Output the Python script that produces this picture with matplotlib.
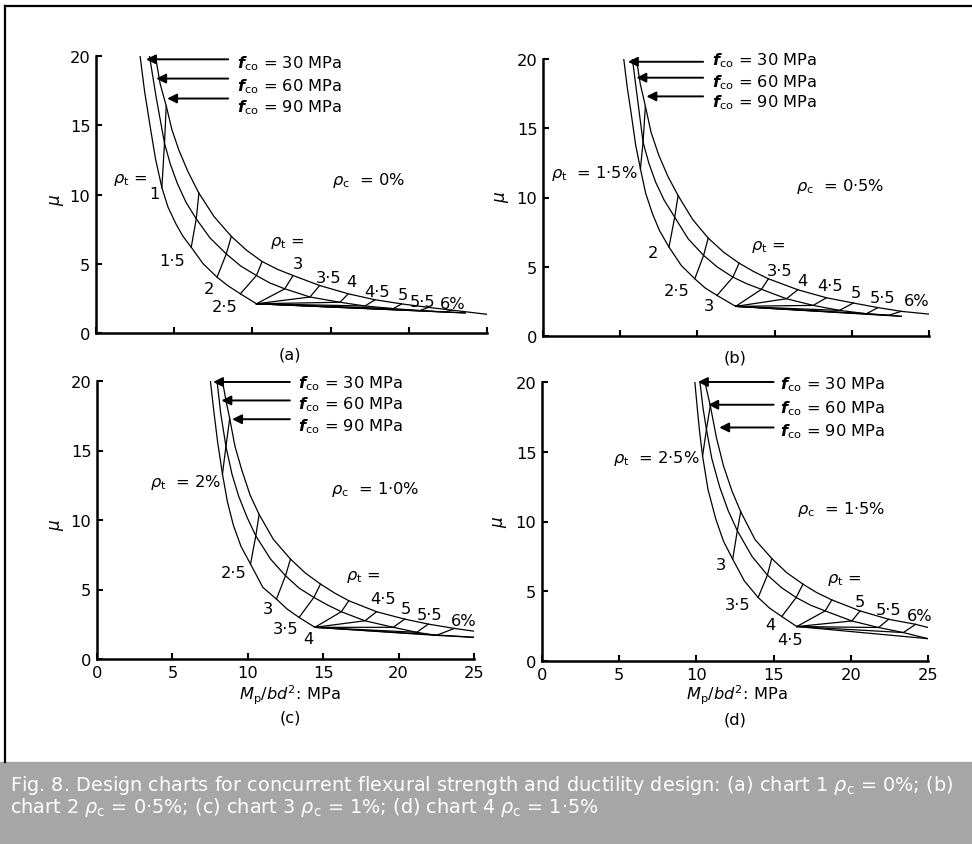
import matplotlib
matplotlib.use('Agg')
import matplotlib.pyplot as plt
from matplotlib.patches import Rectangle
from matplotlib.lines import Line2D

plt.rcParams['font.family'] = ['DejaVu Sans']
plt.rcParams['mathtext.fontset'] = 'custom'
plt.rcParams['mathtext.rm'] = 'DejaVu Sans'
plt.rcParams['mathtext.it'] = 'DejaVu Sans:italic'
plt.rcParams['mathtext.bf'] = 'DejaVu Sans:bold'
plt.rcParams['mathtext.bfit'] = 'DejaVu Sans:bold:italic'

FS = 11.7

# ---- values: M_p/bd^2 (MPa) and mu along each f_co curve ----
# (a) rho_c = 0%
a_rho = [1, 1.5, 2, 2.5, 3, 3.5, 4, 4.5, 5, 5.5, 6]
a_m30 = [2.82, 3.1, 3.45, 3.8, 4.21, 4.6, 5.1, 5.55, 6.09, 6.85, 7.74, 8.45, 9.23, 10.26]
a_mu30 = [20, 17.5, 15, 12.6, 10.5, 9.1, 7.9, 7.0, 6.19, 5.0, 4.03, 3.4, 2.83, 2.11]
a_m60 = [3.42, 3.85, 4.38, 4.75, 5.2, 5.75, 6.41, 7.3, 8.33, 9.25, 10.26, 11.1, 12.07, 13.68,
         15.6, 17.2, 19.0, 20.7, 22.3, 23.6]
a_mu60 = [20, 17, 13.7, 12.2, 10.8, 9.45, 8.24, 6.85, 5.71, 4.84, 4.15, 3.62, 3.19, 2.6,
          2.22, 1.95, 1.76, 1.62, 1.52, 1.45]
a_m90 = [3.8, 4.1, 4.49, 4.85, 5.3, 5.9, 6.58, 7.55, 8.65, 9.6, 10.62, 11.6, 12.6, 14.3,
         16.13, 17.84, 19.55, 21.26, 22.76, 25]
a_mu90 = [20, 18.0, 16.4, 14.7, 13.2, 11.6, 10.1, 8.4, 6.98, 6.0, 5.16, 4.6, 4.15, 3.43,
          2.83, 2.4, 2.1, 1.85, 1.65, 1.35]
a_i30 = [4, 8, 10, 12, 13, 13, 13, 13, 13, 13, 13]
a_i60 = [2, 6, 8, 10, 12, 13, 14, 15, 16, 17, 18]
a_i90 = [2, 6, 8, 10, 12, 13, 14, 15, 16, 17, 18]

# (b) rho_c = 0.5%
b_rho = [1.5, 2, 2.5, 3, 3.5, 4, 4.5, 5, 5.5, 6]
b_m30 = [5.23, 5.45, 5.72, 6.0, 6.31, 6.65, 7.1, 7.55, 8.16, 8.95, 9.83, 10.5, 11.27, 12.48]
b_mu30 = [20, 18, 16, 13.8, 12.07, 10.3, 8.8, 7.6, 6.42, 5.1, 4.13, 3.47, 2.93, 2.14]
b_m60 = [5.79, 6.1, 6.48, 6.85, 7.3, 7.85, 8.53, 9.4, 10.4, 11.3, 12.3, 13.2, 14.15, 15.77,
         17.5, 19.2, 20.95, 22.4, 23.2]
b_mu60 = [20, 17.3, 14.0, 12.5, 11.1, 9.8, 8.58, 7.02, 5.82, 4.97, 4.25, 3.77, 3.37, 2.69,
          2.21, 1.85, 1.61, 1.5, 1.42]
b_m90 = [6.05, 6.3, 6.63, 7.0, 7.5, 8.1, 8.75, 9.7, 10.7, 11.7, 12.7, 13.65, 14.6, 16.5,
         18.36, 20.1, 21.7, 23.2, 25]
b_mu90 = [20, 18.2, 16.6, 14.7, 13.05, 11.5, 10.14, 8.4, 7.07, 6.05, 5.26, 4.65, 4.13, 3.34,
          2.76, 2.38, 2.05, 1.78, 1.58]
b_i30 = [4, 8, 10, 12, 13, 13, 13, 13, 13, 13]
b_i60 = [2, 6, 8, 10, 12, 13, 14, 15, 16, 17]
b_i90 = [2, 6, 8, 10, 12, 13, 14, 15, 16, 17]

# (c) rho_c = 1.0%
c_rho = [2, 2.5, 3, 3.5, 4, 4.5, 5, 5.5, 6]
c_m30 = [7.52, 7.75, 8.0, 8.32, 8.65, 9.05, 9.55, 10.18, 11.0, 11.9, 12.6, 13.4, 14.45]
c_mu30 = [20, 17.8, 15.6, 13.3, 11.3, 9.6, 8.1, 6.83, 5.15, 4.31, 3.6, 2.99, 2.28]
c_m60 = [7.96, 8.2, 8.55, 8.95, 9.4, 9.95, 10.53, 11.5, 12.5, 13.4, 14.38, 15.3, 16.2, 17.77,
         19.65, 21.2, 22.5, 25]
c_mu60 = [20, 17.7, 15.3, 13.3, 11.7, 10.2, 8.86, 7.2, 5.99, 5.1, 4.43, 3.88, 3.4, 2.75,
          2.28, 1.92, 1.7, 1.56]
c_m90 = [8.32, 8.55, 8.8, 9.15, 9.6, 10.15, 10.75, 11.7, 12.83, 13.8, 14.82, 15.75, 16.7,
         18.54, 20.4, 21.97, 23.7, 25]
c_mu90 = [20, 18.6, 17.3, 15.3, 13.6, 11.8, 10.4, 8.6, 7.19, 6.2, 5.39, 4.75, 4.19,
          3.4, 2.87, 2.51, 2.2, 2.0]
c_i30 = [3, 7, 9, 11, 12, 12, 12, 12, 12]
c_i60 = [2, 6, 8, 10, 12, 13, 14, 15, 16]
c_i90 = [2, 6, 8, 10, 12, 13, 14, 15, 16]

# (d) rho_c = 1.5%
d_rho = [2.5, 3, 3.5, 4, 4.5, 5, 5.5, 6]
d_m30 = [9.9, 10.05, 10.2, 10.4, 10.75, 11.25, 11.75, 12.35, 13.1, 14.0, 14.75, 15.53, 16.5]
d_mu30 = [20, 18.2, 16.5, 14.7, 12.3, 10.2, 8.6, 7.3, 5.75, 4.55, 3.78, 3.19, 2.47]
d_m60 = [10.23, 10.42, 10.65, 11.0, 11.5, 12.05, 12.65, 13.6, 14.6, 15.5, 16.46, 17.4, 18.34,
         20.07, 21.8, 23.4, 25]
d_mu60 = [20, 18.2, 16.6, 14.5, 12.5, 10.8, 9.34, 7.5, 6.16, 5.27, 4.55, 4.0, 3.59,
          2.87, 2.4, 2.04, 1.6]
d_m90 = [10.55, 10.9, 11.3, 11.75, 12.3, 12.87, 13.8, 14.88, 15.85, 16.9, 17.8, 18.77, 20.6,
         22.45, 24.2, 25]
d_mu90 = [20, 18.3, 16.0, 14.0, 12.2, 10.7, 8.7, 7.35, 6.33, 5.51, 4.9, 4.38, 3.59,
          2.99, 2.63, 2.4]
d_i30 = [3, 7, 9, 11, 12, 12, 12, 12]
d_i60 = [2, 6, 8, 10, 12, 13, 14, 15]
d_i90 = [1, 5, 7, 9, 11, 12, 13, 14]

fco_labels = ['30', '60', '90']
yticks = [0, 5, 10, 15, 20]
xticks = [0, 5, 10, 15, 20, 25]

W, H = 972, 845
fig = plt.figure(figsize=(W / 100, H / 100), dpi=100)


def box(l, t, r, b):
    return [l / W, 1 - b / H, (r - l) / W, (b - t) / H]


def draw(ax, m30, mu30, m60, mu60, m90, mu90, rho, i30, i60, i90, show_x):
    for m, mu in ((m30, mu30), (m60, mu60), (m90, mu90)):
        ax.plot(m, mu, color='k', lw=0.9)
    for k in range(len(rho)):
        ax.plot([m30[i30[k]], m60[i60[k]], m90[i90[k]]],
                [mu30[i30[k]], mu60[i60[k]], mu90[i90[k]]], color='k', lw=0.9)
    ax.plot([m30[-1], m60[-1]], [mu30[-1], mu60[-1]], color='k', lw=0.9)
    ax.set_xlim(0, 25)
    ax.set_ylim(0, 20)
    for s in ['top', 'right']:
        ax.spines[s].set_visible(False)
    for s in ['left', 'bottom']:
        ax.spines[s].set_linewidth(1.8)
    ax.set_xticks(xticks)
    ax.set_yticks(yticks)
    ax.tick_params(direction='in', length=4, width=1.5, labelsize=FS, pad=4)
    if not show_x:
        ax.set_xticklabels([])
    ax.patch.set_alpha(0)


def arrows(ax, tips, tail_x, text_x, text_y):
    for (tx, ty), lab, yy in zip(tips, fco_labels, text_y):
        ax.annotate('', xy=(tx, ty), xytext=(tail_x, ty),
                    arrowprops=dict(arrowstyle='-|>', color='k', lw=1.4,
                                    mutation_scale=14, shrinkA=0, shrinkB=0))
        ax.text(text_x, yy - 0.43, r'$\mathbfit{f}_{\rm co}$ = ' + lab + ' MPa',
                fontsize=FS, va='baseline', ha='left')


def labels(ax, items):
    for x, y, s, ha in items:
        ax.text(x, y, s, fontsize=FS, ha=ha, va='center')


ax_a = fig.add_axes(box(96, 57, 487, 334))
draw(ax_a, a_m30, a_mu30, a_m60, a_mu60, a_m90, a_mu90, a_rho, a_i30, a_i60, a_i90, False)
arrows(ax_a, [(3.2, 19.76), (3.85, 18.37), (4.55, 16.93)], 8.45, 9.0, [19.6, 17.95, 16.45])
labels(ax_a, [(1.1, 11.1, r'$\rho_{\rm t}$ =', 'left'), (3.75, 10.1, '1', 'center'),
              (4.86, 5.2, '1·5', 'center'), (7.2, 3.2, '2', 'center'), (8.25, 1.9, '2·5', 'center'),
              (12.2, 6.6, r'$\rho_{\rm t}$ =', 'center'), (12.9, 5.0, '3', 'center'),
              (14.85, 4.0, '3·5', 'center'), (16.35, 3.7, '4', 'center'), (17.95, 3.0, '4·5', 'center'),
              (19.6, 2.8, '5', 'center'), (20.9, 2.3, '5·5', 'center'), (22.8, 2.1, '6%', 'center'),
              (15.1, 11.1, r'$\rho_{\rm c}$  = 0%', 'left')])

ax_b = fig.add_axes(box(543, 60, 929, 337))
draw(ax_b, b_m30, b_mu30, b_m60, b_mu60, b_m90, b_mu90, b_rho, b_i30, b_i60, b_i90, False)
arrows(ax_b, [(5.5, 19.8), (6.05, 18.65), (6.7, 17.3)], 10.37, 10.97, [20.05, 18.44, 17.0])
labels(ax_b, [(0.5, 11.8, r'$\rho_{\rm t}$  = 1·5%', 'left'),
              (7.13, 6.06, '2', 'center'), (8.68, 3.29, '2·5', 'center'), (10.73, 2.21, '3', 'center'),
              (14.6, 6.5, r'$\rho_{\rm t}$ =', 'center'), (15.3, 4.7, '3·5', 'center'),
              (16.8, 4.0, '4', 'center'), (18.6, 3.65, '4·5', 'center'), (20.26, 3.17, '5', 'center'),
              (22.0, 2.8, '5·5', 'center'), (24.2, 2.57, '6%', 'center'),
              (16.4, 10.9, r'$\rho_{\rm c}$  = 0·5%', 'left')])

ax_c = fig.add_axes(box(97, 382, 474, 660))
draw(ax_c, c_m30, c_mu30, c_m60, c_mu60, c_m90, c_mu90, c_rho, c_i30, c_i60, c_i90, True)
arrows(ax_c, [(7.7, 19.93), (8.25, 18.6), (8.96, 17.25)], 12.79, 13.3, [20.0, 18.45, 16.9])
labels(ax_c, [(3.5, 12.8, r'$\rho_{\rm t}$  = 2%', 'left'),
              (9.03, 6.23, '2·5', 'center'), (11.35, 3.6, '3', 'center'), (12.5, 2.16, '3·5', 'center'),
              (14.0, 1.44, '4', 'center'), (17.65, 6.0, r'$\rho_{\rm t}$ =', 'center'),
              (19.0, 4.36, '4·5', 'center'), (20.5, 3.6, '5', 'center'), (22.08, 3.23, '5·5', 'center'),
              (24.3, 2.75, '6%', 'center'), (15.55, 12.3, r'$\rho_{\rm c}$  = 1·0%', 'left')])

ax_d = fig.add_axes(box(542, 383, 928, 662))
draw(ax_d, d_m30, d_mu30, d_m60, d_mu60, d_m90, d_mu90, d_rho, d_i30, d_i60, d_i90, True)
arrows(ax_d, [(10.1, 20.0), (10.77, 18.37), (11.48, 16.74)], 15.0, 15.4, [20.0, 18.25, 16.6])
labels(ax_d, [(4.6, 14.6, r'$\rho_{\rm t}$  = 2·5%', 'left'),
              (11.57, 6.95, '3', 'center'), (12.7, 4.07, '3·5', 'center'), (14.77, 2.63, '4', 'center'),
              (16.07, 1.56, '4·5', 'center'), (19.6, 5.87, r'$\rho_{\rm t}$ =', 'center'),
              (20.6, 4.3, '5', 'center'), (22.45, 3.71, '5·5', 'center'), (24.46, 3.28, '6%', 'center'),
              (16.5, 10.9, r'$\rho_{\rm c}$  = 1·5%', 'left')])

# axis labels, panel letters
for px, py in [(57, 200), (502, 197), (57, 525), (500, 522)]:
    fig.text(px / W, 1 - py / H, r'$\mu$', rotation=90, fontsize=FS + 0.5, ha='center', va='center')
for px, py, s in [(290, 355, '(a)'), (735, 358, '(b)'), (290, 718, '(c)'), (735, 720, '(d)')]:
    fig.text(px / W, 1 - py / H, s, fontsize=FS, ha='center', va='center')
for px in [290, 737]:
    fig.text(px / W, 1 - 695 / H, r'$M_{\rm p}/bd^{2}$: MPa', fontsize=FS, ha='center', va='center')

# frame and caption band
fig.add_artist(Line2D([5 / W, 1], [1 - 7 / H, 1 - 7 / H], color='k', lw=1.6))
fig.add_artist(Line2D([5 / W, 5 / W], [1 - 7 / H, 1 - 763 / H], color='k', lw=1.6))
fig.add_artist(Rectangle((0, 0), 1, 1 - 763 / H, transform=fig.transFigure,
                         color='#a6a6a6', zorder=0))
fig.text(10 / W, 1 - 786 / H,
         r'Fig. 8. Design charts for concurrent flexural strength and ductility design: (a) chart 1 $\rho_{\rm c}$ = 0%; (b)',
         color='white', fontsize=13.9, va='center', ha='left')
fig.text(10 / W, 1 - 808 / H,
         r'chart 2 $\rho_{\rm c}$ = 0·5%; (c) chart 3 $\rho_{\rm c}$ = 1%; (d) chart 4 $\rho_{\rm c}$ = 1·5%',
         color='white', fontsize=13.9, va='center', ha='left')

fig.savefig('out.png', dpi=100)
